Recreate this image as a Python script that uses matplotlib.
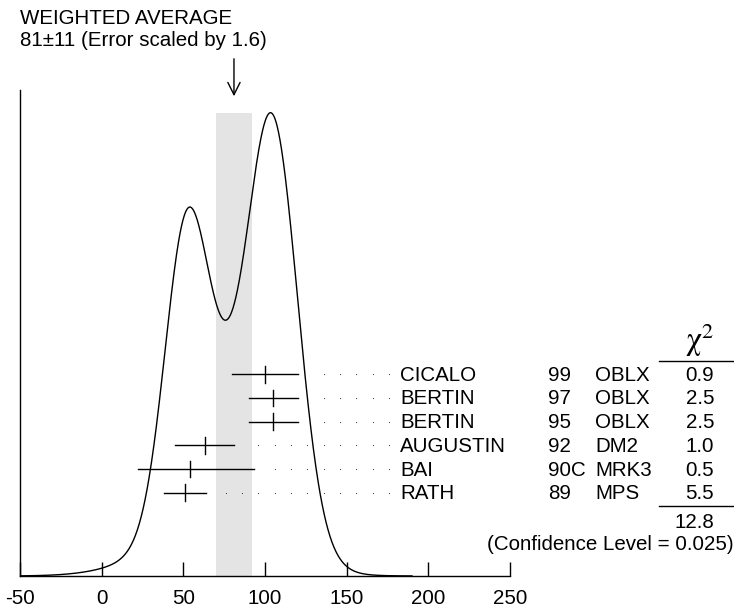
import numpy as np
import matplotlib
matplotlib.use("Agg")
import matplotlib.pyplot as plt

plt.rcParams['font.family'] = ['Liberation Sans', 'DejaVu Sans']
plt.rcParams['mathtext.fontset'] = 'stix'

# measurements (top row first)
authors = ["CICALO", "BERTIN", "BERTIN", "AUGUSTIN", "BAI", "RATH"]
years = ["99", "97", "95", "92", "90C", "89"]
experiments = ["OBLX", "OBLX", "OBLX", "DM2", "MRK3", "MPS"]
values = [100, 105, 105, 63, 54, 51]
err_lo = [20, 15, 15, 18, 32, 13]
err_hi = [20, 15, 15, 18, 39, 13]
chi2 = ["0.9", "2.5", "2.5", "1.0", "0.5", "5.5"]
chi2_total = "12.8"
conf_level = "0.025"
avg, avg_err, scale = 81, 11, 1.6
xticks = [-50, 0, 50, 100, 150, 200, 250]

FS = 14.8
W, H = 734, 609

fig = plt.figure(figsize=(W / 100, H / 100), dpi=100)
ax = fig.add_axes([20 / W, (H - 576) / H, 490 / W, 486 / H])
ytop = 1.049
ax.set_xlim(-50, 250)
ax.set_ylim(0, ytop)

def ypix(p):
    # pixel row of the picture -> y data
    return (576 - p) / 486 * ytop

# ideogram: each measurement a gaussian of area 1/sigma
xs = np.linspace(-50, 190, 800)
curve = np.zeros_like(xs)
for v, lo, hi in zip(values, err_lo, err_hi):
    s = np.where(xs < v, lo, hi)
    sm = 0.5 * (lo + hi)
    curve += np.exp(-0.5 * ((xs - v) / s) ** 2) / sm ** 2
curve /= curve.max()

ax.bar(avg, 1.0, width=2 * avg_err, color='#e4e4e4', zorder=0)
ax.plot(xs, curve, color='black', lw=1.0, zorder=2)

# error bars, dots and table
row0, step = ypix(374.3), ypix(374.3) - ypix(398.0)
for i, (v, lo, hi) in enumerate(zip(values, err_lo, err_hi)):
    y = row0 - i * step
    ax.plot([v - lo, v + hi], [y, y], color='black', lw=1.0, zorder=3)
    ax.plot([v, v], [y - 0.018, y + 0.018], color='black', lw=1.0, zorder=3)
    dots = np.arange(176, 60, -10)
    dots = dots[dots >= v + hi + 10]
    ax.plot(dots, np.full(len(dots), y), ls='none', marker='o', ms=0.7,
            mew=0, color='#333333', zorder=3)
    yt = y - 0.002
    ax.text(182.7, yt, authors[i], fontsize=FS, ha='left', va='center', clip_on=False)
    ax.text(273.5, yt, years[i], fontsize=FS, ha='left', va='center', clip_on=False)
    ax.text(302.0, yt, experiments[i], fontsize=FS, ha='left', va='center', clip_on=False)
    ax.text(375.0, yt, chi2[i], fontsize=FS, ha='right', va='center', clip_on=False)

ax.plot([341.2, 388], [ypix(360.7)] * 2, color='black', lw=1.0, clip_on=False)
ax.plot([341.2, 388], [ypix(506)] * 2, color='black', lw=1.0, clip_on=False)
ax.text(366.0, ypix(359), r'$\mathrm{\chi}^{2}$', fontsize=23, ha='center', va='bottom',
        clip_on=False)
ax.text(375.0, ypix(523), chi2_total, fontsize=FS, ha='right', va='center', clip_on=False)
ax.text(387.0, ypix(545), f"(Confidence Level = {conf_level})", fontsize=FS,
        ha='right', va='center', clip_on=False)

# weighted average arrow and header
ax.annotate('', xy=(avg, ypix(99)), xytext=(avg, ypix(56)), annotation_clip=False,
            arrowprops=dict(arrowstyle='->', lw=1.0, color='black', mutation_scale=22))
fig.text(20.5 / W, 1 - 19 / H, "WEIGHTED AVERAGE", fontsize=FS, ha='left', va='center')
fig.text(20.5 / W, 1 - 40 / H, f"{avg}\u00b1{avg_err} (Error scaled by {scale})",
         fontsize=FS, ha='left', va='center')

for side in ['top', 'right']:
    ax.spines[side].set_visible(False)
for side in ['left', 'bottom']:
    ax.spines[side].set_linewidth(1.0)
ax.set_xticks(xticks)
ax.set_xticklabels([str(t) for t in xticks], fontsize=FS)
ax.tick_params(axis='x', direction='in', length=10, width=1.0, pad=9)
ax.set_yticks([])

fig.savefig("out.png", dpi=100)
